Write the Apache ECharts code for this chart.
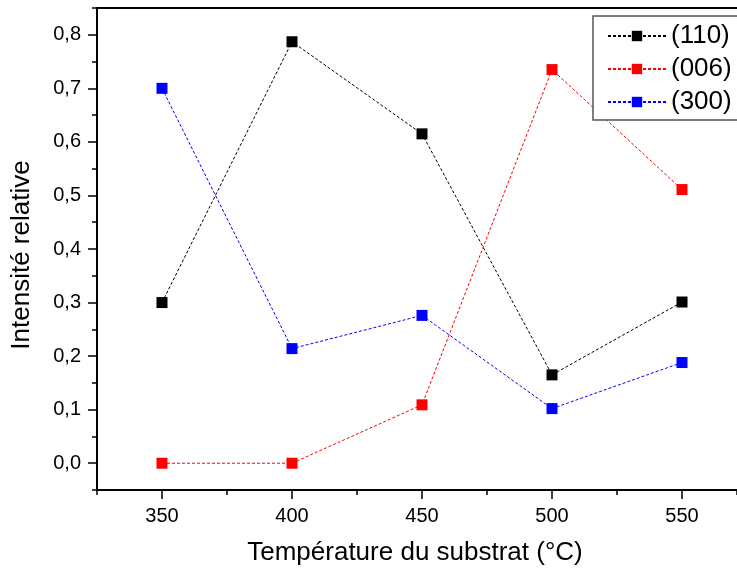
<!DOCTYPE html>
<html>
<head>
<meta charset="utf-8">
<script src="https://cdn.jsdelivr.net/npm/echarts@6/dist/echarts.min.js"></script>
<style>html,body{margin:0;padding:0;background:#fff;}#chart{width:737px;height:572px;}</style>
</head>
<body>
<div id="chart"></div>
<script>
const temperatures = [350, 400, 450, 500, 550];
const s110 = [0.300, 0.787, 0.615, 0.165, 0.301];
const s006 = [0.000, 0.000, 0.109, 0.735, 0.511];
const s300 = [0.700, 0.214, 0.276, 0.102, 0.188];
const seriesNames = ['(110)', '(006)', '(300)'];
const xTitle = 'Température du substrat (°C)';
const yTitle = 'Intensité relative';

const FONT = 'Liberation Sans, Arial, sans-serif';
const chart = echarts.init(document.getElementById('chart'), null, {renderer: 'canvas'});
function pts(vals) { return temperatures.map((t, i) => [t, vals[i]]); }
function mkSeries(name, vals, color) {
  return {
    name: name, type: 'line', xAxisIndex: 0, yAxisIndex: 0,
    data: pts(vals), symbol: 'rect', symbolSize: 11,
    itemStyle: {color: color},
    lineStyle: {color: color, width: 1, type: [3, 2]},
    z: 3
  };
}
const hidden = {show: false};
const X_MAX = 571.15;
chart.setOption({
  animation: false,
  backgroundColor: '#fff',
  textStyle: {fontFamily: FONT, color: '#000'},
  grid: [
    {left: 97, right: 0, top: 8, bottom: 82},
    {left: 162, right: 55, top: 8, bottom: 82},
    {left: 97, right: 0, top: 34.8, bottom: 108.8}
  ],
  xAxis: [
    {gridIndex: 0, type: 'value', position: 'bottom', min: 325, max: X_MAX, interval: 25,
     axisLine: {show: true, onZero: false, lineStyle: {color: '#000', width: 2}},
     axisTick: {show: true, inside: false, length: 5, lineStyle: {color: '#000', width: 1.5}},
     axisLabel: hidden, splitLine: hidden},
    {gridIndex: 0, type: 'value', position: 'top', min: 325, max: X_MAX, interval: 25,
     axisLine: {show: true, onZero: false, lineStyle: {color: '#000', width: 2}},
     axisTick: hidden, axisLabel: hidden, splitLine: hidden},
    {gridIndex: 1, type: 'value', position: 'bottom', min: 350, max: 550, interval: 50,
     axisLine: {show: false, onZero: false},
     axisTick: {show: true, inside: false, length: 9, lineStyle: {color: '#000', width: 1.5}},
     axisLabel: {show: true, fontSize: 20, fontFamily: FONT, color: '#000', margin: 16},
     splitLine: hidden,
     name: xTitle, nameLocation: 'middle', nameGap: 50,
     nameTextStyle: {fontSize: 26, fontFamily: FONT, color: '#000', padding: [0, 14, 0, 0]}},
    {gridIndex: 2, type: 'value', show: false, min: 325, max: X_MAX}
  ],
  yAxis: [
    {gridIndex: 0, type: 'value', position: 'left', min: -0.05, max: 0.85, interval: 0.05,
     axisLine: {show: true, onZero: false, lineStyle: {color: '#000', width: 2}},
     axisTick: {show: true, inside: false, length: 5, lineStyle: {color: '#000', width: 1.5}},
     axisLabel: hidden, splitLine: hidden},
    {gridIndex: 1, type: 'value', show: false, min: -0.05, max: 0.85},
    {gridIndex: 2, type: 'value', position: 'left', min: 0, max: 0.8, interval: 0.1,
     axisLine: {show: false, onZero: false},
     axisTick: {show: true, inside: false, length: 9, lineStyle: {color: '#000', width: 1.5}},
     axisLabel: {show: true, fontSize: 20, fontFamily: FONT, color: '#000', margin: 16,
       formatter: v => v.toFixed(1).replace('.', ',')},
     splitLine: hidden,
     name: yTitle, nameLocation: 'middle', nameGap: 62,
     nameTextStyle: {fontSize: 26, fontFamily: FONT, color: '#000', padding: [0, 12, 0, 0]}}
  ],
  legend: {
    show: true, orient: 'vertical', left: 593, top: 16,
    padding: [7, 70, 5, 14], itemGap: 7, itemWidth: 58, itemHeight: 13,
    backgroundColor: '#fff', borderColor: '#555', borderWidth: 1.5,
    textStyle: {fontSize: 26, fontFamily: FONT, color: '#000'},
    data: seriesNames
  },
  series: [
    mkSeries(seriesNames[0], s110, '#000000'),
    mkSeries(seriesNames[1], s006, '#ff0000'),
    mkSeries(seriesNames[2], s300, '#0000ff')
  ]
});
</script>
</body>
</html>
